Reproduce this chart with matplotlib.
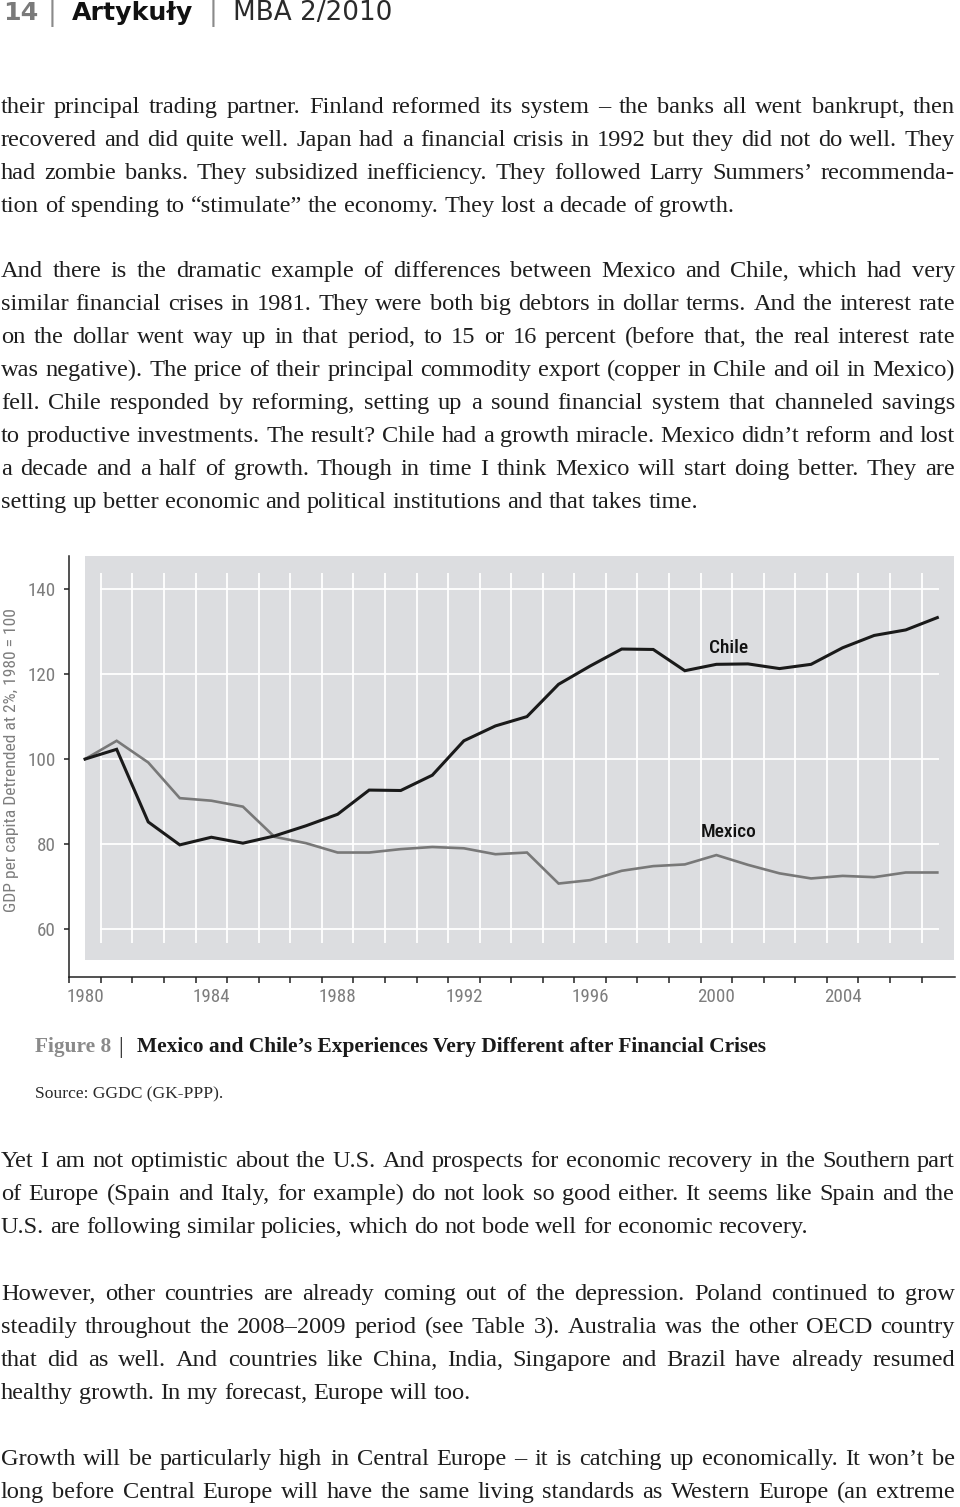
import os
import matplotlib
matplotlib.use("Agg")
import matplotlib.pyplot as plt
from matplotlib import font_manager as fm
from matplotlib.font_manager import FontProperties
from matplotlib.patches import Rectangle

# ---------------- data ----------------
years = list(range(1980, 2008))
chile = [100, 102.3, 85.2, 79.8, 81.6, 80.2, 81.9, 84.3, 87.0, 92.7, 92.6, 96.2,
         104.3, 107.8, 110.0, 117.6, 121.9, 125.9, 125.8, 120.8, 122.3, 122.4,
         121.3, 122.3, 126.2, 129.1, 130.4, 133.3]
mexico = [100, 104.3, 99.2, 90.8, 90.2, 88.8, 81.7, 80.2, 78.0, 78.0, 78.8, 79.3,
          79.0, 77.6, 78.0, 70.7, 71.5, 73.7, 74.8, 75.2, 77.4, 75.1, 73.1, 71.9,
          72.5, 72.2, 73.3, 73.3]
x_label_years = [1980, 1984, 1988, 1992, 1996, 2000, 2004]
y_ticks = [60, 80, 100, 120, 140]
y_label = "GDP per capita Detrended at 2%, 1980 = 100"
series_names = ["Chile", "Mexico"]

header_parts = ["14", "|", "Artykuły", "|", "MBA 2/2010"]
caption_label = "Figure 8"
caption_title = "Mexico and Chile’s Experiences Very Different after Financial Crises"
source_text = "Source: GGDC (GK-PPP)."

par1 = ["their principal trading partner. Finland reformed its system – the banks all went bankrupt, then",
        "recovered and did quite well. Japan had a financial crisis in 1992 but they did not do well. They",
        "had zombie banks. They subsidized inefficiency. They followed Larry Summers’ recommenda-",
        "tion of spending to “stimulate” the economy. They lost a decade of growth."]
par2 = ["And there is the dramatic example of differences between Mexico and Chile, which had very",
        "similar financial crises in 1981. They were both big debtors in dollar terms. And the interest rate",
        "on the dollar went way up in that period, to 15 or 16 percent (before that, the real interest rate",
        "was negative). The price of their principal commodity export (copper in Chile and oil in Mexico)",
        "fell. Chile responded by reforming, setting up a sound financial system that channeled savings",
        "to productive investments. The result? Chile had a growth miracle. Mexico didn’t reform and lost",
        "a decade and a half of growth. Though in time I think Mexico will start doing better. They are",
        "setting up better economic and political institutions and that takes time."]
par3 = ["Yet I am not optimistic about the U.S. And prospects for economic recovery in the Southern part",
        "of Europe (Spain and Italy, for example) do not look so good either. It seems like Spain and the",
        "U.S. are following similar policies, which do not bode well for economic recovery."]
par4 = ["However, other countries are already coming out of the depression. Poland continued to grow",
        "steadily throughout the 2008–2009 period (see Table 3). Australia was the other OECD country",
        "that did as well. And countries like China, India, Singapore and Brazil have already resumed",
        "healthy growth. In my forecast, Europe will too."]
par5 = ["Growth will be particularly high in Central Europe – it is catching up economically. It won’t be",
        "long before Central Europe will have the same living standards as Western Europe (an extreme"]

# ---------------- fonts ----------------
_files = {}
for f in fm.fontManager.ttflist:
    stem = os.path.splitext(os.path.basename(f.fname))[0].lower()
    _files.setdefault(stem, f.fname)


def find_font(cands):
    for c in cands:
        p = _files.get(c.lower())
        if p:
            return p
    return None


cond_reg = find_font(["NotoSans-ExtraCondensed", "NotoSans-Condensed", "RobotoCondensed-Regular",
                      "LiberationSansNarrow-Regular", "DejaVuSansCondensed",
                      "OpenSans_Condensed-Regular", "NotoSans-SemiCondensed"])
cond_med = find_font(["NotoSans-ExtraCondensedMedium", "NotoSans-ExtraCondensedSemiBold",
                      "NotoSans-CondensedMedium", "RobotoCondensed-Medium",
                      "LiberationSansNarrow-Bold", "DejaVuSansCondensed-Bold"]) or cond_reg


def fprop(path, family, size, weight="normal"):
    if path:
        return FontProperties(fname=path, size=size)
    return FontProperties(family=family, size=size, weight=weight)


# ---------------- figure ----------------
W, H = 960, 1507
fig = plt.figure(figsize=(W / 100, H / 100), dpi=100)
fig.patch.set_facecolor("white")
renderer = fig.canvas.get_renderer()


def measure(s, fp):
    w, h, d = renderer.get_text_width_height_descent(s, fp, ismath=False)
    return w


def fit(s, fp, target):
    fp = fp.copy()
    base = fp.get_size_in_points()
    fp.set_size(base * target / measure(s, fp))
    return fp


page = fig.add_axes([0, 0, 1, 1])
page.set_xlim(0, W)
page.set_ylim(H, 0)
page.axis("off")

TXT = "#1e1e1e"

# header
hdr_fp_b = fit("Artykuły", FontProperties(family="DejaVu Sans", weight="bold", size=16), 121)
hdr_fp_r = fit("MBA 2/2010", FontProperties(family="DejaVu Sans", weight="normal", size=16), 160)
hdr_x = [3, 52, 72, 213, 233]
hdr_col = ["#7a7a7a", "#8a8a8a", "#111111", "#8a8a8a", "#2a2a2a"]
hdr_fps = [hdr_fp_b, hdr_fp_r, hdr_fp_b, hdr_fp_r, hdr_fp_r]
hdr_ha = ["left", "center", "left", "center", "left"]
for s, x, c, fp, ha in zip(header_parts, hdr_x, hdr_col, hdr_fps, hdr_ha):
    page.text(x, 20, s, fontproperties=fp, color=c, ha=ha, va="baseline")

# body text
body_fp = FontProperties(family="Liberation Serif", size=20)
full_lines = par1[:3] + par2[:7] + par3[:2] + par4[:3] + par5
widest = max(measure(l, body_fp) for l in full_lines)
body_fp.set_size(min(19.6, 20 * 950 / widest))
space_w = measure("a a", body_fp) - measure("aa", body_fp)
LEFT, RIGHT = 1, 955


def draw_par(lines, baselines, justify_last=False):
    for i, (line, yb) in enumerate(zip(lines, baselines)):
        words = line.split(" ")
        ws = [measure(w, body_fp) for w in words]
        last = (i == len(lines) - 1) and not justify_last
        if last or len(words) == 1:
            gap = space_w
        else:
            gap = (RIGHT - LEFT - sum(ws)) / (len(words) - 1)
        x = LEFT
        for w, wd in zip(words, ws):
            page.text(x, yb, w, fontproperties=body_fp, color=TXT, ha="left", va="baseline")
            x += wd + gap


draw_par(par1, [113 + 33 * k for k in range(4)])
draw_par(par2, [277 + 33 * k for k in range(8)])
draw_par(par3, [1167 + 33 * k for k in range(3)])
draw_par(par4, [1300 + 33 * k for k in range(4)])
draw_par(par5, [1465 + 33 * k for k in range(2)], justify_last=True)

# caption
cap_fp = FontProperties(family="Liberation Serif", weight="bold", size=16)
cap_fp = fit(caption_title, cap_fp, 633)
page.text(35, 1052, caption_label, fontproperties=cap_fp, color="#8a8a8a", ha="left", va="baseline")
bar_fp = FontProperties(family="Liberation Serif", weight="normal", size=cap_fp.get_size_in_points() * 1.1)
page.text(121, 1053, "|", fontproperties=bar_fp, color="#222222", ha="center", va="baseline")
page.text(137, 1052, caption_title, fontproperties=cap_fp, color="#1a1a1a", ha="left", va="baseline")

src_fp = fit(source_text, FontProperties(family="Liberation Serif", size=14), 189)
page.text(35, 1098, source_text, fontproperties=src_fp, color="#2a2a2a", ha="left", va="baseline")

# ---------------- chart ----------------
ax_l, ax_r, ax_t, ax_b = 69, 955, 556, 977
ax = fig.add_axes([ax_l / W, 1 - ax_b / H, (ax_r - ax_l) / W, (ax_b - ax_t) / H])
ax.patch.set_visible(False)
ax.set_xlim(1979.49, 2007.56)
ax.set_ylim(48.7, 147.8)

ax.add_patch(Rectangle((1980.0, 52.7), 27.52, 147.8 - 52.7, facecolor="#dcdde0",
                       edgecolor="none", zorder=0))
grid_x = [y + 0.5 for y in range(1980, 2007)]
ax.vlines(grid_x, 56.7, 143.8, colors="white", linewidth=1.3, zorder=1)
ax.hlines(y_ticks, 1980.47, 2007.05, colors="white", linewidth=1.3, zorder=1)

ax.plot(years, mexico, color="#787878", linewidth=1.9, zorder=3, solid_joinstyle="miter")
ax.plot(years, chile, color="#1a1a1a", linewidth=2.2, zorder=4, solid_joinstyle="miter")

for sp in ["top", "right"]:
    ax.spines[sp].set_visible(False)
for sp in ["left", "bottom"]:
    ax.spines[sp].set_color("#222222")
    ax.spines[sp].set_linewidth(1.1)

tick_fp = fit("1980", fprop(cond_reg, "DejaVu Sans", 14), 38)
ax.set_xticks(x_label_years)
ax.set_xticklabels([str(v) for v in x_label_years])
ax.set_xticks([1979.5 + k for k in range(28)], minor=True)
ax.tick_params(axis="x", which="major", length=0, pad=8)
ax.tick_params(axis="x", which="minor", length=4.3, width=1.1, color="#222222", direction="out")
ax.set_yticks(y_ticks)
ax.set_yticklabels([str(v) for v in y_ticks])
ax.tick_params(axis="y", which="major", length=3.6, width=1.1, color="#222222", pad=6.0, direction="out")
for lab in ax.get_xticklabels() + ax.get_yticklabels():
    lab.set_fontproperties(tick_fp)
    lab.set_color("#7d7d7d")

ylab_fp = fit(y_label, fprop(cond_reg, "DejaVu Sans", 12), 302)
page.text(12, 760, y_label, fontproperties=ylab_fp, color="#7d7d7d", rotation=90,
          ha="center", va="center")

lab_fp = fit("Mexico", fprop(cond_med, "DejaVu Sans", 14), 56)
ax.text(2000.4, 124.9, series_names[0], fontproperties=lab_fp, color="#111111",
        ha="center", va="baseline", zorder=5)
ax.text(2000.4, 81.6, series_names[1], fontproperties=lab_fp, color="#111111",
        ha="center", va="baseline", zorder=5)

fig.savefig("out.png", dpi=100, facecolor="white")
